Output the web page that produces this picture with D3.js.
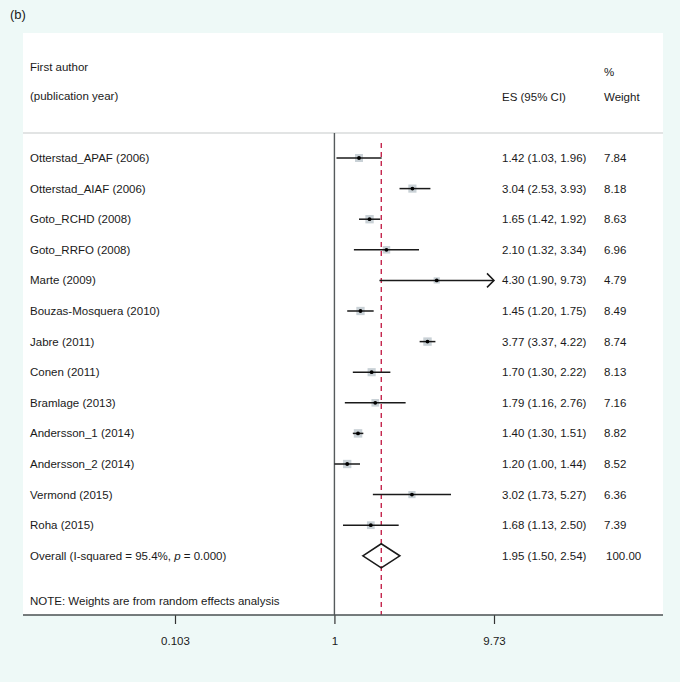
<!DOCTYPE html>
<html><head><meta charset="utf-8">
<script src="https://cdn.jsdelivr.net/npm/d3@7"></script>
<style>
html,body{margin:0;padding:0;background:#eef9f7;}
svg{display:block;font-family:"Liberation Sans",Arial,sans-serif;}
</style></head>
<body>
<svg id="c" width="680" height="682"></svg>
<script>
const studies = ["Otterstad_APAF (2006)","Otterstad_AIAF (2006)","Goto_RCHD (2008)","Goto_RRFO (2008)","Marte (2009)","Bouzas-Mosquera (2010)","Jabre (2011)","Conen (2011)","Bramlage (2013)","Andersson_1 (2014)","Andersson_2 (2014)","Vermond (2015)","Roha (2015)"];
const es    = [1.42,3.04,1.65,2.10,4.30,1.45,3.77,1.70,1.79,1.40,1.20,3.02,1.68];
const lower = [1.03,2.53,1.42,1.32,1.90,1.20,3.37,1.30,1.16,1.30,1.00,1.73,1.13];
const upper = [1.96,3.93,1.92,3.34,9.73,1.75,4.22,2.22,2.76,1.51,1.44,5.27,2.50];
const weights = [7.84,8.18,8.63,6.96,4.79,8.49,8.74,8.13,7.16,8.82,8.52,6.36,7.39];
const overall = {label:"Overall (I-squared = 95.4%, p = 0.000)", es:1.95, lo:1.50, hi:2.54, w:100.00};
const tickValues = [0.103, 1, 9.73];
const tickLabels = ["0.103","1","9.73"];

const svg = d3.select("#c");
const panel = {x0:23, x1:663, y0:33, y1:615};
const x = d3.scaleLog().domain([0.103, 9.73]).range([175, 494]);
const rowY = d3.scaleLinear().domain([0, 1]).range([158, 188.6]);
const fs = 11.5;
const ink = "#1a1a1a";

svg.append("text").attr("x",10).attr("y",19).attr("font-size",13).attr("fill",ink).text("(b)");
svg.append("rect").attr("x",panel.x0).attr("y",panel.y0).attr("width",panel.x1-panel.x0).attr("height",panel.y1-panel.y0).attr("fill","#fff");

// headers
const hdr = svg.append("g").attr("font-size",fs).attr("fill",ink);
hdr.append("text").attr("x",30).attr("y",71).text("First author");
hdr.append("text").attr("x",30).attr("y",100).text("(publication year)");
hdr.append("text").attr("x",502).attr("y",101).text("ES (95% CI)");
hdr.append("text").attr("x",604).attr("y",76).text("%");
hdr.append("text").attr("x",604).attr("y",101).text("Weight");
svg.append("line").attr("x1",panel.x0).attr("x2",panel.x1).attr("y1",133).attr("y2",133).attr("stroke","#e2e4e4").attr("stroke-width",2);

// null line
svg.append("line").attr("x1",x(1)).attr("x2",x(1)).attr("y1",133).attr("y2",panel.y1).attr("stroke","#555a5c").attr("stroke-width",1.4);
// overall dashed line
svg.append("line").attr("x1",x(overall.es)).attr("x2",x(overall.es)).attr("y1",143).attr("y2",panel.y1)
  .attr("stroke","#c0143f").attr("stroke-width",1.3).attr("stroke-dasharray","5,4");

const rows = svg.append("g");
studies.forEach((s,i)=>{
  const y = rowY(i);
  const xmax = x.domain()[1];
  const hiClip = Math.min(upper[i], xmax);
  const side = 2.85*Math.sqrt(weights[i]);
  rows.append("rect").attr("x",x(es[i])-side/2).attr("y",y-side/2).attr("width",side).attr("height",side).attr("fill","#c9d1d6");
  rows.append("line").attr("x1",x(lower[i])).attr("x2",x(hiClip)).attr("y1",y).attr("y2",y).attr("stroke",ink).attr("stroke-width",1.5);
  if (upper[i] >= xmax) {
    const xe = x(hiClip);
    rows.append("path").attr("d",`M${xe-7},${y-7}L${xe},${y}L${xe-7},${y+7}`).attr("fill","none").attr("stroke",ink).attr("stroke-width",1.5);
  }
  rows.append("circle").attr("cx",x(es[i])).attr("cy",y).attr("r",1.9).attr("fill","#000");
  rows.append("text").attr("x",30).attr("y",y+4).attr("font-size",fs).attr("fill",ink).text(s);
  rows.append("text").attr("x",502).attr("y",y+4).attr("font-size",fs).attr("fill",ink)
    .text(`${es[i].toFixed(2)} (${lower[i].toFixed(2)}, ${upper[i].toFixed(2)})`);
  rows.append("text").attr("x",604).attr("y",y+4).attr("font-size",fs).attr("fill",ink).text(weights[i].toFixed(2));
});

// overall
const yo = rowY(studies.length);
const ot = rows.append("text").attr("x",30).attr("y",yo+4).attr("font-size",fs).attr("fill",ink);
ot.append("tspan").text("Overall (I-squared = 95.4%, ");
ot.append("tspan").attr("font-style","italic").text("p");
ot.append("tspan").text(" = 0.000)");
rows.append("path").attr("d",`M${x(overall.lo)},${yo}L${x(overall.es)},${yo-12}L${x(overall.hi)},${yo}L${x(overall.es)},${yo+12}Z`)
  .attr("fill","none").attr("stroke",ink).attr("stroke-width",1.6);
rows.append("text").attr("x",502).attr("y",yo+4).attr("font-size",fs).attr("fill",ink)
  .text(`${overall.es.toFixed(2)} (${overall.lo.toFixed(2)}, ${overall.hi.toFixed(2)})`);
rows.append("text").attr("x",606).attr("y",yo+4).attr("font-size",fs).attr("fill",ink).text(overall.w.toFixed(2));

svg.append("text").attr("x",30).attr("y",605).attr("font-size",fs).attr("fill",ink).text("NOTE: Weights are from random effects analysis");

// axis
const ax = svg.append("g").attr("transform",`translate(0,${panel.y1})`)
  .call(d3.axisBottom(x).tickValues(tickValues).tickFormat((d,i)=>tickLabels[i]).tickSize(9).tickPadding(13));
ax.select(".domain").remove();
ax.selectAll(".tick line").attr("stroke","#333").attr("stroke-width",1.2);
ax.selectAll(".tick text").attr("font-size",fs).attr("fill",ink).attr("font-family","Liberation Sans, Arial, sans-serif");
svg.append("line").attr("x1",panel.x0).attr("x2",panel.x1).attr("y1",panel.y1).attr("y2",panel.y1).attr("stroke","#4a5052").attr("stroke-width",1.6);
</script>
</body></html>
